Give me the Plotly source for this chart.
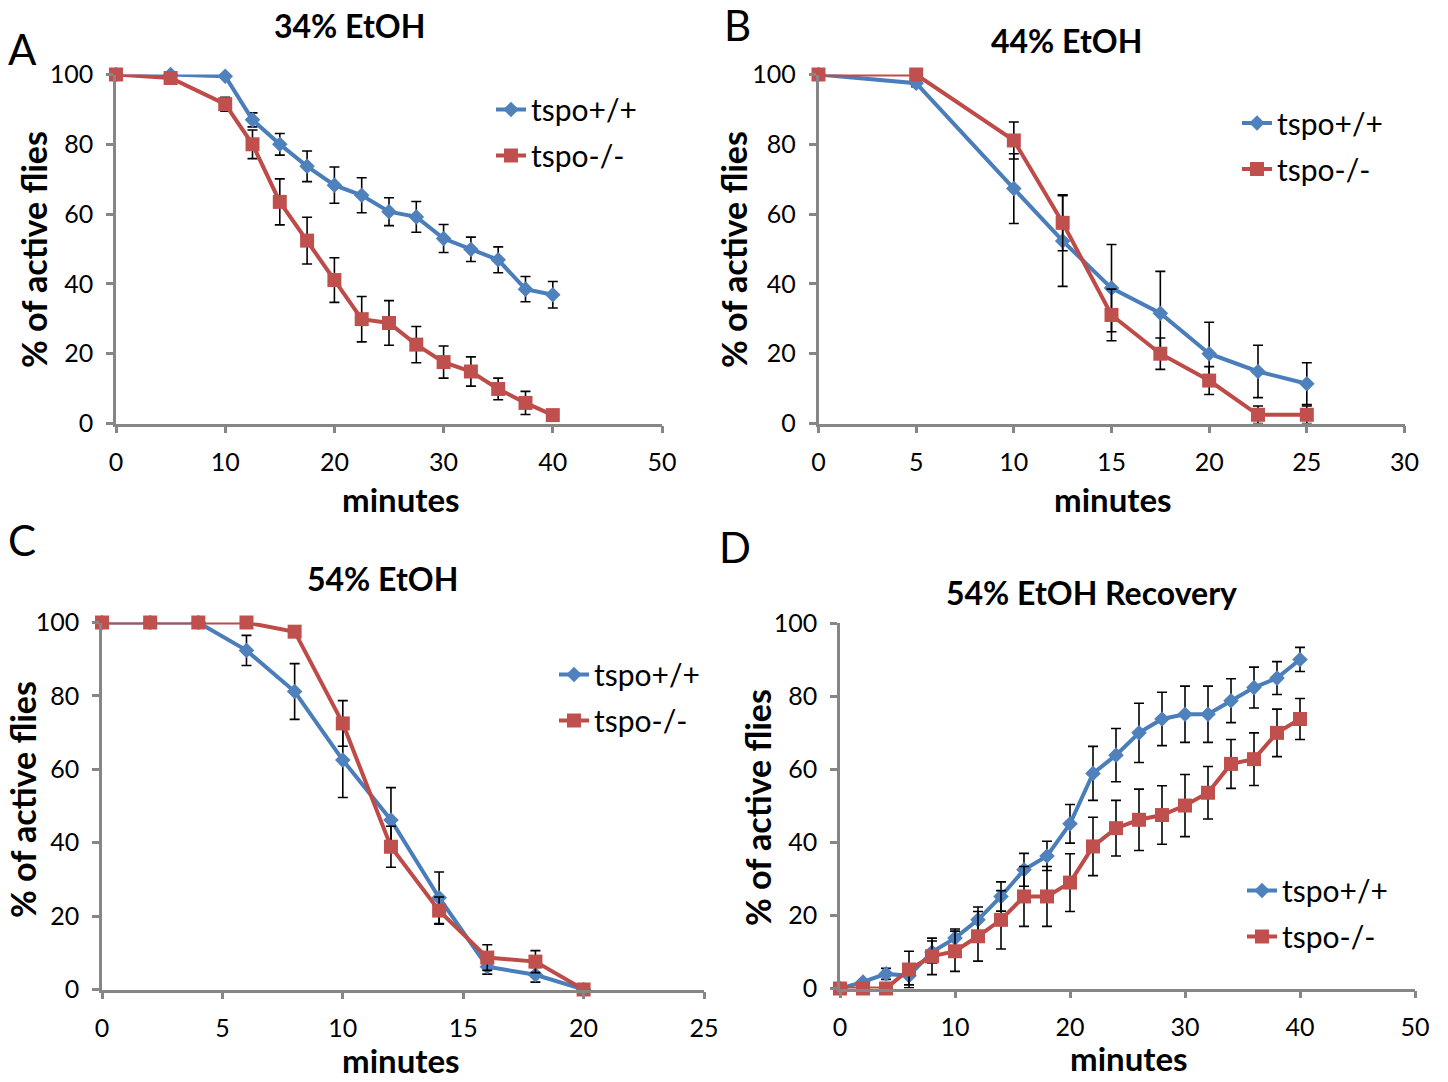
import plotly.graph_objects as go

# ---------------- data ----------------
A_x = [0, 5, 10, 12.5, 15, 17.5, 20, 22.5, 25, 27.5, 30, 32.5, 35, 37.5, 40]
A_wt = [100, 100, 99.5, 87, 80, 73.7, 68.3, 65.4, 60.7, 59.2, 53, 49.9, 46.9, 38.5, 36.9]
A_wt_err = [0, 0, 0, 2, 3.1, 4.4, 5.2, 5, 4, 4.4, 4, 3.5, 3.7, 3.6, 3.8]
A_ko = [100, 99, 91.5, 80, 63.5, 52.4, 41.1, 29.9, 28.8, 22.6, 17.6, 14.9, 9.9, 5.9, 2.4]
A_ko_err = [0, 0, 2, 4.1, 6.6, 6.7, 6.4, 6.5, 6.4, 5.2, 4.6, 4.2, 3.1, 3.3, 0]

B_x = [0, 5, 10, 12.5, 15, 17.5, 20, 22.5, 25]
B_wt = [100, 97.5, 67.3, 52.3, 38.8, 31.6, 20, 14.9, 11.4]
B_wt_err = [0, 1, 10, 13, 12.5, 12, 9, 7.5, 6]
B_ko = [100, 100, 81.1, 57.5, 31.1, 20, 12.3, 2.5, 2.5]
B_ko_err = [0, 0, 5.3, 8, 7.4, 4.5, 4, 2.5, 2.5]

C_x = [0, 2, 4, 6, 8, 10, 12, 14, 16, 18, 20]
C_wt = [100, 100, 100, 92.4, 81.2, 62.5, 46.2, 25, 6.2, 4, 0]
C_wt_err = [0, 0, 0, 4.1, 7.6, 10.2, 8.8, 7, 2, 2, 0]
C_ko = [100, 100, 100, 100, 97.5, 72.5, 38.9, 21.5, 8.7, 7.6, 0]
C_ko_err = [0, 0, 0, 0, 1.5, 6.2, 5.6, 3.7, 3.5, 3, 0]

D_x = [0, 2, 4, 6, 8, 10, 12, 14, 16, 18, 20, 22, 24, 26, 28, 30, 32, 34, 36, 38, 40]
D_wt = [0, 1.8, 4, 3.5, 10, 13.8, 18.8, 25.2, 32.5, 36.3, 45.1, 58.9, 63.9, 70,
        73.8, 75.1, 75.1, 78.8, 82.4, 85, 90.1]
D_wt_err = [0, 0.5, 1.5, 2.5, 3, 2.5, 3.5, 4, 4.5, 4, 5.3, 7.4, 7.3, 8.1, 7.3, 7.7,
            7.7, 6, 5.6, 4.5, 3.3]
D_ko = [0, 0, 0, 5.2, 8.8, 10.2, 14.3, 18.8, 25.2, 25.2, 29, 38.9, 43.9, 46.2, 47.5,
        50.1, 53.6, 61.5, 62.8, 70, 73.8]
D_ko_err = [0, 0, 0, 5, 5, 5.5, 6.8, 8, 8.2, 8.2, 7.9, 8, 7.6, 8.4, 8, 8.5, 7.2, 6.7,
            7.2, 6.5, 5.6]

series_names = ["tspo+/+", "tspo-/-"]
panel_titles = ["34% EtOH", "44% EtOH", "54% EtOH", "54% EtOH Recovery"]
panel_letters = ["A", "B", "C", "D"]
x_ranges = [(0, 50, 10), (0, 30, 5), (0, 25, 5), (0, 50, 10)]
y_title = "% of active flies"
x_title = "minutes"

# ---------------- style ----------------
W, H = 1448, 1082
BLUE_L, BLUE_M = "#4A7EBB", "#4F81BD"
RED_L, RED_M = "#BE4B48", "#C0504D"
AX = "#868686"
TICKFONT = dict(family="Lato", size=25, color="black")
BOLD = "Lato"

# panel pixel boxes: (left, right, top, bottom)
boxes = [(116, 662, 74.5, 423.5), (818.5, 1404.5, 74.5, 423.5),
         (102, 704, 622.5, 989.5), (840, 1415, 623.3, 988.5)]

def px(x):
    return x / W

def py(y):
    return 1 - y / H

fig = go.Figure()
panels = [
    (A_x, A_wt, A_wt_err, A_ko, A_ko_err),
    (B_x, B_wt, B_wt_err, B_ko, B_ko_err),
    (C_x, C_wt, C_wt_err, C_ko, C_ko_err),
    (D_x, D_wt, D_wt_err, D_ko, D_ko_err),
]

for i, (xs, wt, wte, ko, koe) in enumerate(panels):
    xa = "x" if i == 0 else f"x{i+1}"
    ya = "y" if i == 0 else f"y{i+1}"
    lg = "legend" if i == 0 else f"legend{i+1}"
    for j, (ys, es) in enumerate([(wt, wte), (ko, koe)]):
        col_l = BLUE_L if j == 0 else RED_L
        col_m = BLUE_M if j == 0 else RED_M
        sym = "diamond" if j == 0 else "square"
        size = 12 if j == 0 else 14
        ex = [x for x, e in zip(xs, es) if e > 0]
        ey = [y for y, e in zip(ys, es) if e > 0]
        ee = [e for e in es if e > 0]
        fig.add_trace(go.Scatter(
            x=ex, y=ey, mode="markers", xaxis=xa, yaxis=ya, showlegend=False,
            marker=dict(size=2, color="rgba(0,0,0,0)"), hoverinfo="skip",
            error_y=dict(type="data", array=ee, color="black", thickness=1.6, width=5),
            cliponaxis=False))
        fig.add_trace(go.Scatter(
            x=xs, y=ys, mode="lines+markers", name=series_names[j], xaxis=xa, yaxis=ya,
            legend=lg, legendgroup=f"g{i}{j}",
            line=dict(color=col_l, width=4),
            marker=dict(symbol=sym, size=size, color=col_m, line=dict(width=0)),
            cliponaxis=False))

layout = dict(
    width=W, height=H, margin=dict(l=0, r=0, t=0, b=0, autoexpand=False),
    paper_bgcolor="white", plot_bgcolor="white", showlegend=True,
)
for i, (l, r, t, b) in enumerate(boxes):
    sx = "" if i == 0 else str(i + 1)
    x0, x1, dt = x_ranges[i]
    common = dict(showgrid=False, zeroline=False, showline=True, linecolor=AX, linewidth=2.5,
                  ticks="outside", ticklen=7, tickwidth=2.5, tickcolor=AX,
                  tickfont=TICKFONT, fixedrange=True, automargin=False)
    layout[f"xaxis{sx}"] = dict(domain=[px(l), px(r)], range=[x0, x1], tickmode="linear",
                                tick0=0, dtick=dt, anchor=f"y{sx}", ticklabelstandoff=8, **common)
    layout[f"yaxis{sx}"] = dict(domain=[py(b), py(t)], range=[0, 100], tickmode="linear",
                                tick0=0, dtick=20, anchor=f"x{sx}", ticklabelstandoff=8, **common)

# legends: (text start x, centre y of the two items)
leg_pos = [(533, 132.5), (1279, 146), (596, 697.5), (1284, 913.5)]
for i, (lx, ly) in enumerate(leg_pos):
    key = "legend" if i == 0 else f"legend{i+1}"
    layout[key] = dict(x=px(lx - 42), y=py(ly), xanchor="left", yanchor="middle",
                       font=dict(family="Lato", size=30, color="black"),
                       bgcolor="rgba(0,0,0,0)", tracegroupgap=4, itemclick=False)

fig.update_layout(**layout)

ann = []
letter_pos = [(22, 49), (737, 25), (22, 540), (735, 547)]
title_pos = [(349, 26), (1066, 40), (382, 578), (1091, 592)]
ytitle_pos = [(33, 250), (733, 250), (22, 800), (757, 808)]
xtitle_pos = [(401, 499), (1113, 499), (401, 1060), (1129, 1058)]
for i in range(4):
    ann.append(dict(text=panel_letters[i], x=px(letter_pos[i][0]), y=py(letter_pos[i][1]),
                    xref="paper", yref="paper", showarrow=False, xanchor="center",
                    yanchor="middle", font=dict(family="Lato", size=42, color="black")))
    ann.append(dict(text=f"<b>{panel_titles[i]}</b>", x=px(title_pos[i][0]), y=py(title_pos[i][1]),
                    xref="paper", yref="paper", showarrow=False, xanchor="center",
                    yanchor="middle", font=dict(family=BOLD, size=32, color="black")))
    ann.append(dict(text=f"<b>{y_title}</b>", x=px(ytitle_pos[i][0]), y=py(ytitle_pos[i][1]),
                    xref="paper", yref="paper", showarrow=False, xanchor="center",
                    yanchor="middle", textangle=-90,
                    font=dict(family=BOLD, size=34, color="black")))
    ann.append(dict(text=f"<b>{x_title}</b>", x=px(xtitle_pos[i][0]), y=py(xtitle_pos[i][1]),
                    xref="paper", yref="paper", showarrow=False, xanchor="center",
                    yanchor="middle", font=dict(family=BOLD, size=33, color="black")))
fig.update_layout(annotations=ann)

fig.write_html("out.html", config={"displayModeBar": False},
               post_script="document.body.style.margin='0';")
